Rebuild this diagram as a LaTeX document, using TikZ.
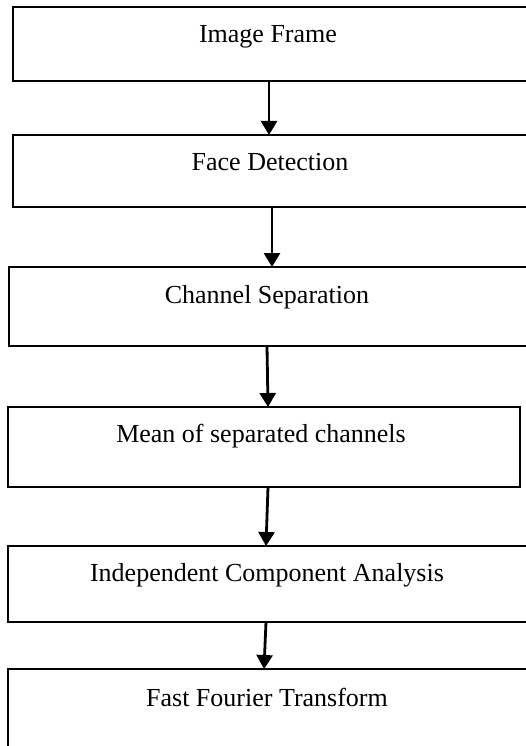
\documentclass[tikz,border=0pt]{standalone}
\usepackage{fontspec}
\setmainfont{Liberation Serif}
\usetikzlibrary{arrows.meta}

\tikzset{
  stagebox/.style={draw=black, line width=2.2pt, rectangle, outer sep=0pt, inner sep=0pt},
  stagetext/.style={anchor=base, inner sep=0pt, font=\fontsize{26}{30}\selectfont},
  flow/.style={line width=2.8pt, -{Triangle[length=14pt, width=16pt]}}
}

\begin{document}
\begin{tikzpicture}[x=1pt, y=1pt]
  \useasboundingbox (0,0) rectangle (526,-746);
  \clip (0,0) rectangle (526,-746);

  % processing stages, top to bottom
  \node[stagebox, minimum width=527pt, minimum height=74pt]  (b1) at (276.5,-44)  {};
  \node[stagebox, minimum width=527pt, minimum height=72pt]  (b2) at (276.5,-171) {};
  \node[stagebox, minimum width=531pt, minimum height=79pt]  (b3) at (274.5,-306.5) {};
  \node[stagebox, minimum width=512pt, minimum height=80pt]  (b4) at (264,-447)   {};
  \node[stagebox, minimum width=532pt, minimum height=76pt]  (b5) at (274,-584)   {};
  \node[stagebox, minimum width=532pt, minimum height=121pt] (b6) at (274,-729.5) {};

  % stage titles, set near the top of each box
  \node[stagetext] (t1) at ([shift={(255,-36)}]b1.north west) {Image Frame};
  \node[stagetext] (t2) at ([shift={(257,-36)}]b2.north west) {Face Detection};
  \node[stagetext] (t3) at ([shift={(258,-36)}]b3.north west) {Channel Separation};
  \node[stagetext] (t4) at ([shift={(253,-35)}]b4.north west) {Mean of separated channels};
  \node[stagetext] (t5) at ([shift={(259,-35)}]b5.north west) {Independent Component Analysis};
  \node[stagetext] (t6) at ([shift={(259,-37)}]b6.north west) {Fast Fourier Transform};

  % connectors between stages
  \draw[flow] ([xshift=256pt]b1.south west) -- ([xshift=256pt]b2.north west);
  \draw[flow] ([xshift=259pt]b2.south west) -- ([xshift=263pt]b3.north west);
  \draw[flow] ([xshift=258pt]b3.south west) -- ([xshift=260pt]b4.north west);
  \draw[flow] ([xshift=260pt]b4.south west) -- ([xshift=258pt]b5.north west);
  \draw[flow] ([xshift=258pt]b5.south west) -- ([xshift=256pt]b6.north west);
\end{tikzpicture}
\end{document}
